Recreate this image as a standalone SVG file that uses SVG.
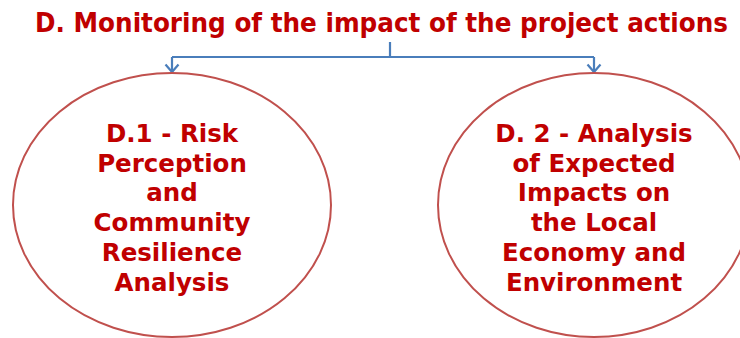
<svg xmlns="http://www.w3.org/2000/svg" width="740" height="338" viewBox="0 0 740 338">
<style>
.title{font-family:"DejaVu Sans Condensed","DejaVu Sans",sans-serif;font-weight:bold;font-size:26px;fill:#C00000}
.lbl{font-family:"DejaVu Sans","Verdana",sans-serif;font-weight:bold;font-size:24.5px;fill:#C00000;text-anchor:middle}
.ell{fill:#fff;stroke:#C0504D;stroke-width:2}
.con{fill:none;stroke:#4A7EBB;stroke-width:2.2}
.head{fill:none;stroke:#4A7EBB;stroke-width:2.2;stroke-linejoin:miter}
</style>
<rect width="740" height="338" fill="#fff"/>
<g id="title">
<text class="title" x="35" y="32" textLength="693" lengthAdjust="spacingAndGlyphs">D. Monitoring of the impact of the project actions</text>
</g>
<g id="connectors">
<path class="con" d="M390,42 V57"/>
<path class="con" d="M172,57 H594"/>
<path class="con" d="M172,57 V72"/>
<path class="con" d="M594,57 V72"/>
<path class="head" d="M165.5,64.5 L172,72 L178.5,64.5"/>
<path class="head" d="M587.5,64.5 L594,72 L600.5,64.5"/>
</g>
<g id="node-d1">
<ellipse class="ell" cx="172" cy="205" rx="159" ry="132"/>
<text class="lbl" x="172" y="142">D.1 - Risk</text>
<text class="lbl" x="172" y="171.7">Perception</text>
<text class="lbl" x="172" y="201.4">and</text>
<text class="lbl" x="172" y="231.1">Community</text>
<text class="lbl" x="172" y="260.8">Resilience</text>
<text class="lbl" x="172" y="290.5">Analysis</text>
</g>
<g id="node-d2">
<ellipse class="ell" cx="594" cy="205" rx="156" ry="132"/>
<text class="lbl" x="594" y="142">D. 2 - Analysis</text>
<text class="lbl" x="594" y="171.7">of Expected</text>
<text class="lbl" x="594" y="201.4">Impacts on</text>
<text class="lbl" x="594" y="231.1">the Local</text>
<text class="lbl" x="594" y="260.8">Economy and</text>
<text class="lbl" x="594" y="290.5">Environment</text>
</g>
</svg>
